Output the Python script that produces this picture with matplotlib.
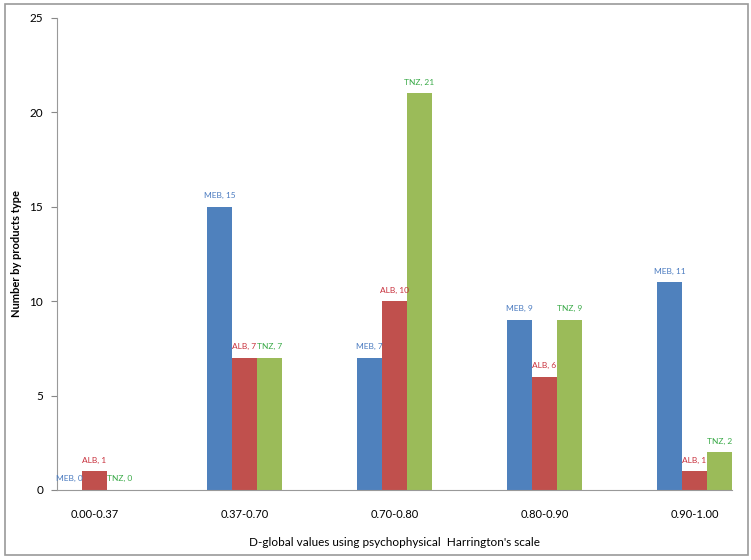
import matplotlib.pyplot as plt
import numpy as np
from matplotlib.patches import Rectangle

categories = ["0.00-0.37", "0.37-0.70", "0.70-0.80", "0.80-0.90", "0.90-1.00"]
series = ["MEB", "ALB", "TNZ"]
meb = [0, 15, 7, 9, 11]
alb = [1, 7, 10, 6, 1]
tnz = [0, 7, 21, 9, 2]

bar_colors = ["#4F81BD", "#C0504D", "#9BBB59"]
text_colors = ["#4A7BC0", "#C8303C", "#3AAA48"]

plt.rcParams["font.family"] = ["Lato", "DejaVu Sans"]

fig = plt.figure(figsize=(7.51, 5.6), dpi=100)
fig.patches.append(Rectangle((0.006, 0.009), 0.99, 0.983, transform=fig.transFigure,
                             fill=False, edgecolor="#9a9a9a", linewidth=1.2))
ax = fig.add_axes([0.0759, 0.125, 0.8988, 0.8429])

x = np.arange(len(categories))
width = 1 / 6
for i, (name, vals) in enumerate(zip(series, [meb, alb, tnz])):
    pos = x + (i - 1) * width
    ax.bar(pos, vals, width, color=bar_colors[i], linewidth=0)
    for p, v in zip(pos, vals):
        ax.annotate(f"{name}, {v}", (p, v), xytext=(0, 8), textcoords="offset points",
                    ha="center", va="center", fontsize=6, color=text_colors[i])

ax.set_xlim(-0.25, 4.25)
ax.set_ylim(0, 25)
ax.set_yticks([0, 5, 10, 15, 20, 25])
ax.set_xticks(x)
ax.set_xticklabels(categories)
ax.tick_params(axis="x", length=0, pad=14, labelsize=8)
ax.tick_params(axis="y", length=4, color="#888888", labelsize=8.5, pad=6)
for s in ["top", "right"]:
    ax.spines[s].set_visible(False)
for s in ["left", "bottom"]:
    ax.spines[s].set_color("#999999")

ax.set_ylabel("Number by products type", fontsize=8, fontweight="bold")
ax.yaxis.set_label_coords(-0.052, 0.5)
ax.set_xlabel("D-global values using psychophysical  Harrington's scale", fontsize=8.5, labelpad=12)

fig.savefig("out.png", dpi=100)
